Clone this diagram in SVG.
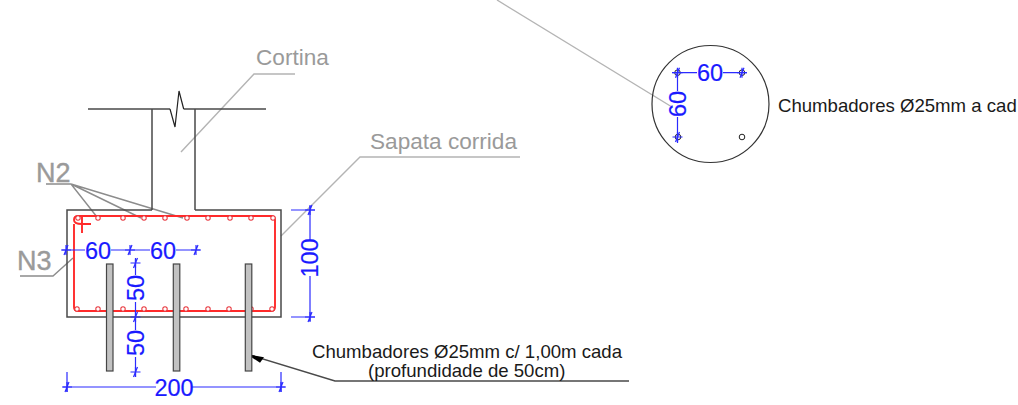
<svg xmlns="http://www.w3.org/2000/svg" width="1018" height="405" viewBox="0 0 1018 405">
<style>
text{font-family:"Liberation Sans",Arial,sans-serif}
.con{fill:none;stroke:#4a4a4a;stroke-width:1.5}
.lead{fill:none;stroke:#b4b4b4;stroke-width:1.4}
.leadd{fill:none;stroke:#8c8c8c;stroke-width:1.4}
.lab{fill:#9a9a9a;font-size:22.6px}
.big{fill:#9a9a9a;font-size:27px;stroke:#9a9a9a;stroke-width:.4}
.note{fill:#1a1a1a;font-size:18.6px}
.dim{fill:none;stroke:#2b2bff;stroke-width:1.2}
.dt{fill:#1a1aff;font-size:23.5px;text-anchor:middle;stroke:#1a1aff;stroke-width:.2}
.red{fill:none;stroke:#ff2a2a;stroke-width:1.9}
.bar{fill:#fff;stroke:#e8383f;stroke-width:1.1}
.bolt{fill:#c2c2c2;stroke:#454545;stroke-width:1.2}
</style>
<defs>
<path id="t" d="M-2 5L2-5M-5 0H5M0-5V5" class="dim"/>
<circle id="b" r="2.200" class="bar"/>
</defs>
<g id="connectors">
<path class="lead" d="M181 152L254 74H295"/>
<path class="lead" d="M281 236L360 157H520"/>
<path class="leadd" d="M46 184H71L97 217M71 184L141 218M71 184L183 218"/>
<path class="leadd" d="M20 276H53L73 258"/>
<path class="lead" d="M497 0L672 107"/>
<path class="con" d="M246.700 354L335 381H629"/>
<path d="M246.700 354L264 357.300L260 362.800Z" fill="#000"/>
</g>
<g id="wall">
<path class="con" d="M88 109H170M183.700 109H266M152 109V210M195 109V210"/>
<path d="M170 109L175 127L179 91L183.700 109" fill="none" stroke="#222" stroke-width="1.200"/>
</g>
<g id="footing">
<path class="con" d="M152 210H67V317H281V210H195"/>
</g>
<g id="stirrup">
<path class="red" d="M74 224V307Q74 311 78 311H271Q275 311 275 307V220Q275 216 271 216H78Q74 216 74 220Q74 224 82 224H91M82 216V233"/>
<use href="#b" x="78" y="218"/><use href="#b" x="98" y="218"/><use href="#b" x="123" y="218"/><use href="#b" x="144" y="218"/><use href="#b" x="165" y="218"/><use href="#b" x="187" y="218"/><use href="#b" x="208" y="218"/><use href="#b" x="230" y="218"/><use href="#b" x="251" y="218"/><use href="#b" x="273" y="218"/>
<use href="#b" x="77" y="309"/><use href="#b" x="98" y="309"/><use href="#b" x="123" y="309"/><use href="#b" x="144" y="309"/><use href="#b" x="165" y="309"/><use href="#b" x="186" y="309"/><use href="#b" x="208" y="309"/><use href="#b" x="229" y="309"/><use href="#b" x="251" y="309"/><use href="#b" x="272" y="309"/>
</g>
<g id="bolts">
<rect class="bolt" x="106.500" y="264" width="6.500" height="107"/>
<rect class="bolt" x="173.300" y="264" width="6.500" height="107"/>
<rect class="bolt" x="245.300" y="264" width="6.500" height="107"/>
</g>
<g id="dim-60-60">
<path class="dim" d="M62 250H85M111 250H150M176 250H200"/>
<use href="#t" x="66" y="250"/><use href="#t" x="130" y="250"/><use href="#t" x="196" y="250"/>
<text class="dt" x="98" y="258.500">60</text><text class="dt" x="163" y="258.500">60</text>
</g>
<g id="dim-50-50">
<path class="dim" d="M135.500 259V275M135.500 302V330M135.500 357V377"/>
<use href="#t" x="135.500" y="263"/><use href="#t" x="135.500" y="317"/><use href="#t" x="135.500" y="372"/>
<text class="dt" transform="translate(143.500 288) rotate(-90)">50</text>
<text class="dt" transform="translate(143.500 343) rotate(-90)">50</text>
</g>
<g id="dim-100">
<path class="dim" d="M291 210H315M291 317H315M310 206V240M310 276V321"/>
<use href="#t" x="310" y="210"/><use href="#t" x="310" y="317"/>
<text class="dt" transform="translate(318 258) rotate(-90)">100</text>
</g>
<g id="dim-200">
<path class="dim" d="M63 387H156M192 387H285M67 372V392M281 372V392"/>
<use href="#t" x="67" y="387"/><use href="#t" x="281" y="387"/>
<text class="dt" x="174" y="395.500">200</text>
</g>
<g id="labels">
<text class="lab" x="256" y="65">Cortina</text>
<text class="lab" x="370" y="149">Sapata corrida</text>
<text class="big" x="36" y="182">N2</text>
<text class="big" x="17" y="270">N3</text>
<text class="note" x="312" y="357.500">Chumbadores Ø25mm c/ 1,00m cada</text>
<text class="note" x="368" y="377">(profundidade de 50cm)</text>
</g>
<g id="section">
<circle cx="710.500" cy="104" r="58.500" fill="none" stroke="#333" stroke-width="1.200"/>
<circle cx="677.500" cy="72.700" r="2.800" fill="none" stroke="#222"/><circle cx="742" cy="72.700" r="2.800" fill="none" stroke="#222"/><circle cx="678" cy="137" r="2.800" fill="none" stroke="#222"/><circle cx="742" cy="137" r="2.800" fill="none" stroke="#222"/>
<path class="dim" d="M672 72.700H697M723 72.700H747M677.500 68V91M677.500 117V143"/>
<use href="#t" x="677.500" y="72.700"/><use href="#t" x="742" y="72.700"/><use href="#t" x="677.500" y="137"/>
<text class="dt" x="710" y="81">60</text>
<text class="dt" transform="translate(686 104) rotate(-90)">60</text>
<text class="note" x="778" y="111.500">Chumbadores Ø25mm a cad</text>
</g>
</svg>
